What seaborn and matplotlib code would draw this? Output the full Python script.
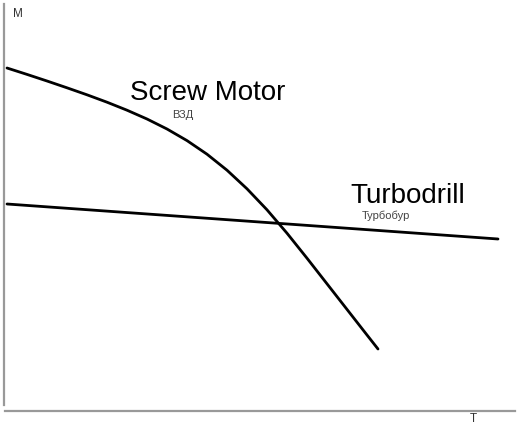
import pandas as pd
import matplotlib
matplotlib.use("Agg")
import matplotlib.pyplot as plt
import seaborn as sns

# torque (M) vs speed (T)
screw_t = [3, 23, 43, 63, 83, 103, 123, 143, 163, 183,
           203, 223, 243, 263, 283, 303, 323, 343, 363, 374]
screw_m = [343, 336.6, 330, 323.2, 316.2, 308.8, 300.8, 292, 282, 270.4,
           256.8, 240.8, 222.2, 201.2, 177.8, 152.8, 127.2, 101.6, 76, 62]
turbo_t = [3, 494]
turbo_m = [207, 172]

screw = pd.DataFrame({"T": screw_t, "M": screw_m})
turbo = pd.DataFrame({"T": turbo_t, "M": turbo_m})

sns.set_style("white")
plt.rcParams["font.family"] = ["Liberation Sans", "DejaVu Sans"]

fig = plt.figure(figsize=(5.2, 4.27), dpi=100)
ax = fig.add_axes([4 / 520, 15 / 427, 511 / 520, 407 / 427])

sns.lineplot(data=screw, x="T", y="M", color="black", linewidth=2.0, ax=ax,
             sort=False, solid_joinstyle="round", solid_capstyle="round")
sns.lineplot(data=turbo, x="T", y="M", color="black", linewidth=2.0, ax=ax)

ax.set_xlim(0, 511)
ax.set_ylim(0, 407)
ax.set_xticks([])
ax.set_yticks([])
ax.set_xlabel("")
ax.set_ylabel("")
for side in ["top", "right"]:
    ax.spines[side].set_visible(False)
for side in ["left", "bottom"]:
    ax.spines[side].set_color("#999999")
    ax.spines[side].set_linewidth(1.6)
ax.spines["left"].set_bounds(6, 407)
ax.spines["bottom"].set_bounds(1, 511)

ax.text(126, 312, "Screw Motor", fontsize=20, color="black", va="baseline")
ax.text(168, 294, "ВЗД", fontsize=8, color="#444444", va="baseline")
ax.text(346, 209, "Turbodrill", fontsize=20, color="black", va="baseline")
ax.text(358, 193, "Турбобур", fontsize=8, color="#444444", va="baseline")
ax.text(9, 395, "M", fontsize=8.5, color="#333333", va="baseline")
ax.text(466, -10, "T", fontsize=8.5, color="#333333", va="baseline", clip_on=False)

fig.savefig("out.png", dpi=100)
